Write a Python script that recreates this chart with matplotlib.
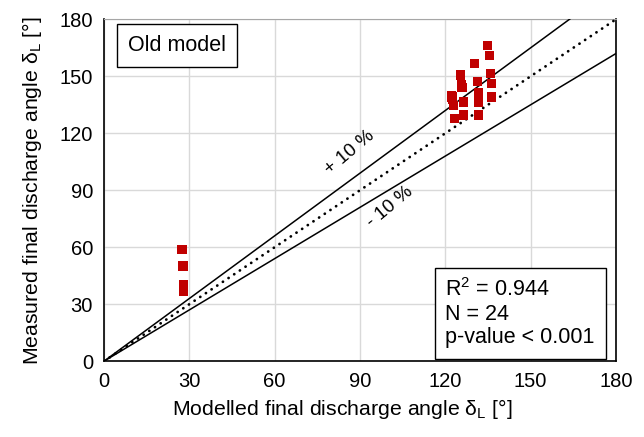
import numpy as np
import matplotlib
matplotlib.use('Agg')
import matplotlib.pyplot as plt

plt.rcParams['font.family'] = ['Liberation Sans', 'DejaVu Sans']
plt.rcParams['mathtext.fontset'] = 'custom'
plt.rcParams['mathtext.rm'] = 'Liberation Sans'
plt.rcParams['mathtext.it'] = 'Liberation Sans:italic'

# modelled vs measured final discharge angle (deg)
modelled = [27.4, 27.7, 27.9, 27.9,
            134.9, 135.6, 130.3, 125.4, 135.9, 131.3, 136.3, 125.9, 125.6, 131.7,
            122.2, 122.4, 122.6, 126.4, 131.7, 136.3, 122.9, 126.4, 131.7, 123.3]
measured = [58.8, 50.1, 40.4, 36.9,
            166.3, 161.1, 156.8, 150.7, 151.6, 147.4, 146.3, 144.2, 145.5, 141.6,
            140.0, 139.0, 137.9, 136.5, 136.5, 139.1, 134.7, 129.6, 129.6, 127.9]
ticks = [0, 30, 60, 90, 120, 150, 180]
stats = ['R$^2$ = 0.944', 'N = 24', 'p-value < 0.001']

fig = plt.figure(figsize=(6.44, 4.37), dpi=100)
ax = fig.add_axes([0.1615, 0.1735, 0.7950, 0.7823])

line = np.array([0, 180])
ax.plot(line, line, color='black', linestyle=(0, (0.05, 2.4)), linewidth=2.0,
        dash_capstyle='round', zorder=3)
ax.plot(line, 1.1 * line, color='black', linewidth=1.1, zorder=3)
ax.plot(line, 0.9 * line, color='black', linewidth=1.1, zorder=3)

ax.scatter(modelled, measured, marker='s', s=46, color='#C00000',
           edgecolors='none', zorder=4)

ax.set_xlim(0, 180)
ax.set_ylim(0, 180)
ax.set_xticks(ticks)
ax.set_yticks(ticks)
ax.grid(True, color='#d9d9d9', linewidth=1.0)
ax.set_axisbelow(True)
ax.tick_params(length=0, labelsize=14.5, pad=8)
for s in ['left', 'bottom', 'right']:
    ax.spines[s].set_color('black')
    ax.spines[s].set_linewidth(1.2)
ax.spines['top'].set_color('#a6a6a6')

ax.set_xlabel(r'Modelled final discharge angle δ$_{\mathrm{L}}$ [°]', fontsize=15.3)
ax.xaxis.set_label_coords(0.465, -0.105, transform=ax.transAxes)
ax.xaxis.label.set_va('top')
ax.set_ylabel(r'Measured final discharge angle δ$_{\mathrm{L}}$ [°]', fontsize=15.3, labelpad=11)

ax.text(86.5, 110, '+ 10 %', fontsize=13.5, rotation=40, ha='center', va='center')
ax.text(100.5, 81, '- 10 %', fontsize=13.5, rotation=40, ha='center', va='center')

ax.text(0.047, 0.923, 'Old model', transform=ax.transAxes, fontsize=15.5,
        ha='left', va='center',
        bbox=dict(boxstyle='square,pad=0.5', facecolor='white', edgecolor='black', linewidth=1.0))
ax.text(0.667, 0.14, '\n'.join(stats), transform=ax.transAxes, fontsize=15.5,
        ha='left', va='center', linespacing=1.15,
        bbox=dict(boxstyle='square,pad=0.5', facecolor='white', edgecolor='black', linewidth=1.0))

fig.savefig('out.png', dpi=100)
